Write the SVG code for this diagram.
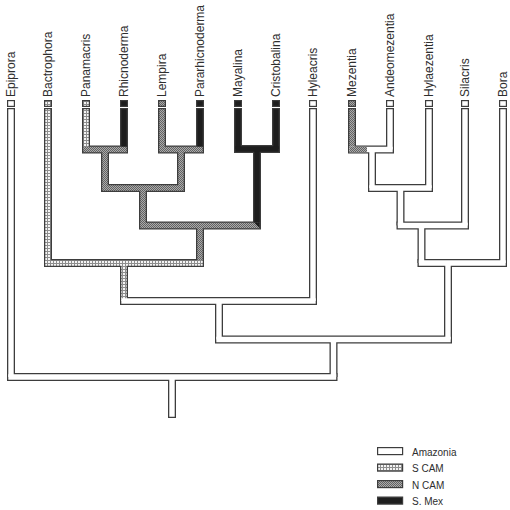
<svg xmlns="http://www.w3.org/2000/svg" width="510" height="510" viewBox="0 0 510 510">
<defs>
<pattern id="scam" patternUnits="userSpaceOnUse" width="3" height="3">
<rect width="3" height="3" fill="#8e8e8e"/>
<rect width="2" height="2" fill="#f4f4f4"/>
</pattern>
<pattern id="ncam" patternUnits="userSpaceOnUse" width="2" height="2">
<rect width="2" height="2" fill="#ababab"/>
<rect width="1" height="1" fill="#626262"/>
<rect x="1" y="1" width="1" height="1" fill="#626262"/>
</pattern>
</defs>
<style>
.o{fill:none;stroke:#3d3d3d;stroke-width:8}
.v{stroke-linecap:butt}
.h{stroke-linecap:square}
.i{fill:none;stroke-width:5.4}
.w{stroke:#ffffff}
.s{stroke:url(#scam)}
.n{stroke:url(#ncam)}
.k{stroke:#1e1e1e}
.box{stroke:#3d3d3d;stroke-width:1.2}
.bw{fill:#ffffff}.bs{fill:url(#scam)}.bn{fill:url(#ncam)}.bk{fill:#1e1e1e}
.lab{font-family:"Liberation Sans",Arial,sans-serif;font-size:12px;fill:#2e2e2e}
.leg{font-family:"Liberation Sans",Arial,sans-serif;font-size:10px;fill:#2e2e2e}
</style>
<rect width="510" height="510" fill="#ffffff"/>
<g id="connectors">
<g class="o v">
<path d="M11,108V377M48,108V263M86,108V149.5M124,108V149.5M162,108V149.5M200,108V149.5M238,108V149M276,108V149M313,108V301M352,108V149.5M390,108V149.5M429,108V188M465,108V225.5M503,108V263"/>
<path d="M105,149.5V188M181,149.5V188M143,188V225.5M257,149V225.5M200,225.5V263M124,263V301M219,301V339.5M333.5,339.5V377M172,377V418M372,149.5V188M400.5,188V225.5M421.5,225.5V263M448,263V339.5"/>
</g>
<g class="o h">
<path d="M86,149.5H124M162,149.5H200M238,149H276M352,149.5H390M105,188H181M372,188H429M143,225.5H257M400.5,225.5H465M48,263H200M421.5,263H503M124,301H313M219,339.5H448M11,377H333.5"/>
</g>
<g class="i v">
<path class="w" d="M11,109.3V377M313,109.3V301M390,109.3V149.5M429,109.3V188M465,109.3V225.5M503,109.3V263"/>
<path class="s" d="M48,109.3V263M86,109.3V149.5"/>
<path class="n" d="M162,109.3V149.5M352,109.3V149.5"/>
<path class="k" d="M124,109.3V149.5M200,109.3V149.5M238,109.3V149M276,109.3V149"/>
<path class="n" d="M105,149.5V188M181,149.5V188M143,188V225.5M200,225.5V263"/>
<path class="k" d="M257,149V225.5"/>
<path class="s" d="M124,263V301"/>
<path class="w" d="M219,301V339.5M333.5,339.5V377M172,377V416.7M372,149.5V188M400.5,188V225.5M421.5,225.5V263M448,263V339.5"/>
</g>
<g class="i h">
<path class="n" d="M86,149.5H124M162,149.5H200M105,188H181M143,225.5H257"/>
<path class="k" d="M238,149H276"/>
<path class="w" d="M352,149.5H390M372,188H429M400.5,225.5H465M421.5,263H503M124,301H313M219,339.5H448M11,377H333.5"/>
<path class="s" d="M48,263H200"/>
</g>
<polygon points="254.3,222.8 259.7,222.8 259.7,228.2" fill="#1e1e1e"/>
<rect x="349.3" y="146.8" width="17.7" height="5.4" fill="url(#ncam)"/>
</g>
<g id="Epiprora"><rect class="box bw" x="7.6" y="100.6" width="6.8" height="5.8"/><text class="lab" transform="translate(15,97) rotate(-90)">Epiprora</text></g>
<g id="Bactrophora"><rect class="box bs" x="44.6" y="100.6" width="6.8" height="5.8"/><text class="lab" transform="translate(52,97) rotate(-90)">Bactrophora</text></g>
<g id="Panamacris"><rect class="box bs" x="82.6" y="100.6" width="6.8" height="5.8"/><text class="lab" transform="translate(90,97) rotate(-90)">Panamacris</text></g>
<g id="Rhicnoderma"><rect class="box bk" x="120.6" y="100.6" width="6.8" height="5.8"/><text class="lab" transform="translate(128,97) rotate(-90)">Rhicnoderma</text></g>
<g id="Lempira"><rect class="box bn" x="158.6" y="100.6" width="6.8" height="5.8"/><text class="lab" transform="translate(166,97) rotate(-90)">Lempira</text></g>
<g id="Pararhicnoderma"><rect class="box bk" x="196.6" y="100.6" width="6.8" height="5.8"/><text class="lab" transform="translate(204,97) rotate(-90)">Pararhicnoderma</text></g>
<g id="Mayalina"><rect class="box bk" x="234.6" y="100.6" width="6.8" height="5.8"/><text class="lab" transform="translate(242,97) rotate(-90)">Mayalina</text></g>
<g id="Cristobalina"><rect class="box bk" x="272.6" y="100.6" width="6.8" height="5.8"/><text class="lab" transform="translate(280,97) rotate(-90)">Cristobalina</text></g>
<g id="Hyleacris"><rect class="box bw" x="309.6" y="100.6" width="6.8" height="5.8"/><text class="lab" transform="translate(317,97) rotate(-90)">Hyleacris</text></g>
<g id="Mezentia"><rect class="box bn" x="348.6" y="100.6" width="6.8" height="5.8"/><text class="lab" transform="translate(356,97) rotate(-90)">Mezentia</text></g>
<g id="Andeomezentia"><rect class="box bw" x="386.6" y="100.6" width="6.8" height="5.8"/><text class="lab" transform="translate(394,97) rotate(-90)">Andeomezentia</text></g>
<g id="Hylaezentia"><rect class="box bw" x="425.6" y="100.6" width="6.8" height="5.8"/><text class="lab" transform="translate(433,97) rotate(-90)">Hylaezentia</text></g>
<g id="Silacris"><rect class="box bw" x="461.6" y="100.6" width="6.8" height="5.8"/><text class="lab" transform="translate(469,97) rotate(-90)">Silacris</text></g>
<g id="Bora"><rect class="box bw" x="499.6" y="100.6" width="6.8" height="5.8"/><text class="lab" transform="translate(507,97) rotate(-90)">Bora</text></g>
<g id="legend">
<rect class="box bw" x="377.6" y="447.6" width="25" height="7"/><text class="leg" x="412" y="455.5">Amazonia</text>
<rect class="box bs" x="377.6" y="464.1" width="25" height="7"/><text class="leg" x="412" y="472">S CAM</text>
<rect class="box bn" x="377.6" y="480.6" width="25" height="7"/><text class="leg" x="412" y="488.5">N CAM</text>
<rect class="box bk" x="377.6" y="497.1" width="25" height="7"/><text class="leg" x="412" y="505">S. Mex</text>
</g>
</svg>
